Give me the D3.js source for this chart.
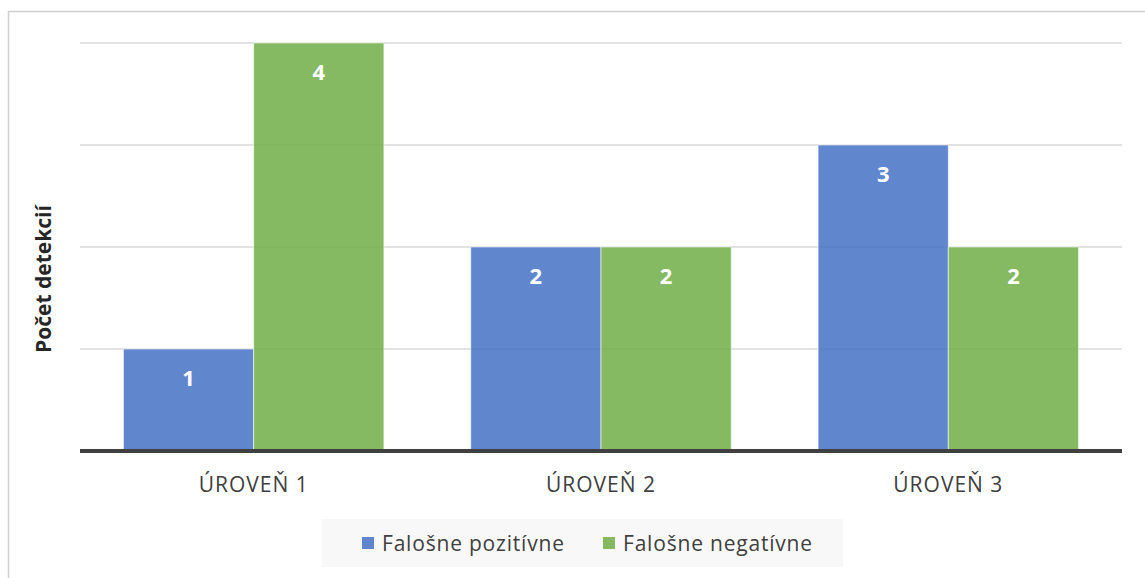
<!DOCTYPE html>
<html><head><meta charset="utf-8">
<script src="https://cdn.jsdelivr.net/npm/d3@7"></script>
<style>body{margin:0;background:#fff}svg{display:block}</style>
</head><body>
<svg id="c" width="1145" height="578"></svg>
<script>
const categories = ["ÚROVEŇ 1", "ÚROVEŇ 2", "ÚROVEŇ 3"];
const seriesNames = ["Falošne pozitívne", "Falošne negatívne"];
const falsePositive = [1, 2, 3];
const falseNegative = [4, 2, 2];
const yTicks = [0, 1, 2, 3, 4];
const colors = ["#4472C4", "#70AD47"];
const seriesValues = [falsePositive, falseNegative];

(function () {
const svg = d3.select("#c");
const font = "'Open Sans', 'Noto Sans', sans-serif";
svg.append("rect").attr("x", 8.5).attr("y", 11.5).attr("width", 1160).attr("height", 600)
  .attr("fill", "#fff").attr("stroke", "#d0d0d0").attr("stroke-width", 1.5);

const mLeft = 80, mRight = 1122, mTop = 43, mBottom = 451;
const y = d3.scaleLinear().domain([0, 4]).range([mBottom, mTop]);
const x0 = d3.scaleBand().domain(categories).range([mLeft, mRight]).padding(0);
const bw = x0.bandwidth();
const x1 = d3.scaleBand().domain(seriesNames).range([bw * 0.125, bw * 0.875]).padding(0);

svg.append("g").selectAll("line").data(yTicks.filter(d => d > 0)).join("line")
  .attr("x1", mLeft).attr("x2", mRight).attr("y1", d => y(d)).attr("y2", d => y(d))
  .attr("stroke", "#d9d9d9").attr("stroke-width", 1.5);

const rows = (c, i) => seriesNames.map((s, j) => ({s, j, v: seriesValues[j][i]}));
const groups = svg.append("g").selectAll("g").data(categories).join("g")
  .attr("transform", c => `translate(${x0(c)},0)`);
groups.selectAll("rect").data(rows).join("rect")
  .attr("x", d => x1(d.s)).attr("width", x1.bandwidth())
  .attr("y", d => y(d.v)).attr("height", d => y(0) - y(d.v))
  .attr("fill", d => colors[d.j]).attr("fill-opacity", 0.85)
  .attr("stroke", "#ffffff").attr("stroke-opacity", 0.6).attr("stroke-width", 1);
groups.selectAll("text").data(rows).join("text")
  .attr("x", d => x1(d.s) + x1.bandwidth() / 2).attr("y", d => y(d.v) + 37)
  .attr("text-anchor", "middle").attr("fill", "#fff").attr("font-weight", "bold")
  .attr("font-family", font).attr("font-size", 22).text(d => d.v);

svg.append("line").attr("x1", mLeft).attr("x2", mRight).attr("y1", mBottom).attr("y2", mBottom)
  .attr("stroke", "#404040").attr("stroke-width", 4);

const xAxis = svg.append("g").attr("transform", `translate(0,${mBottom})`)
  .call(d3.axisBottom(x0).tickSize(0).tickPadding(0));
xAxis.select(".domain").remove();
xAxis.selectAll("text").attr("font-family", font).attr("font-size", 21).attr("fill", "#404040")
  .attr("letter-spacing", 1).attr("dy", 0).attr("y", 41);

svg.append("text").attr("transform", "translate(51,279) rotate(-90)")
  .attr("text-anchor", "middle").attr("font-family", font).attr("font-size", 21)
  .attr("font-weight", "bold").attr("fill", "#262626").text("Počet detekcií");

const lg = svg.append("g");
lg.append("rect").attr("x", 322).attr("y", 519).attr("width", 521).attr("height", 48).attr("fill", "#f8f8f8");
const lx = [362, 603];
const items = lg.selectAll("g").data(seriesNames).join("g").attr("transform", (d, i) => `translate(${lx[i]},0)`);
items.append("rect").attr("x", 0).attr("y", 537).attr("width", 12).attr("height", 12)
  .attr("fill", (d, i) => colors[i]).attr("fill-opacity", 0.85);
items.append("text").attr("x", 20).attr("y", 551).attr("font-family", font).attr("font-size", 21)
  .attr("letter-spacing", 0.8).attr("fill", "#404040").text(d => d);
})();
</script>
</body></html>
